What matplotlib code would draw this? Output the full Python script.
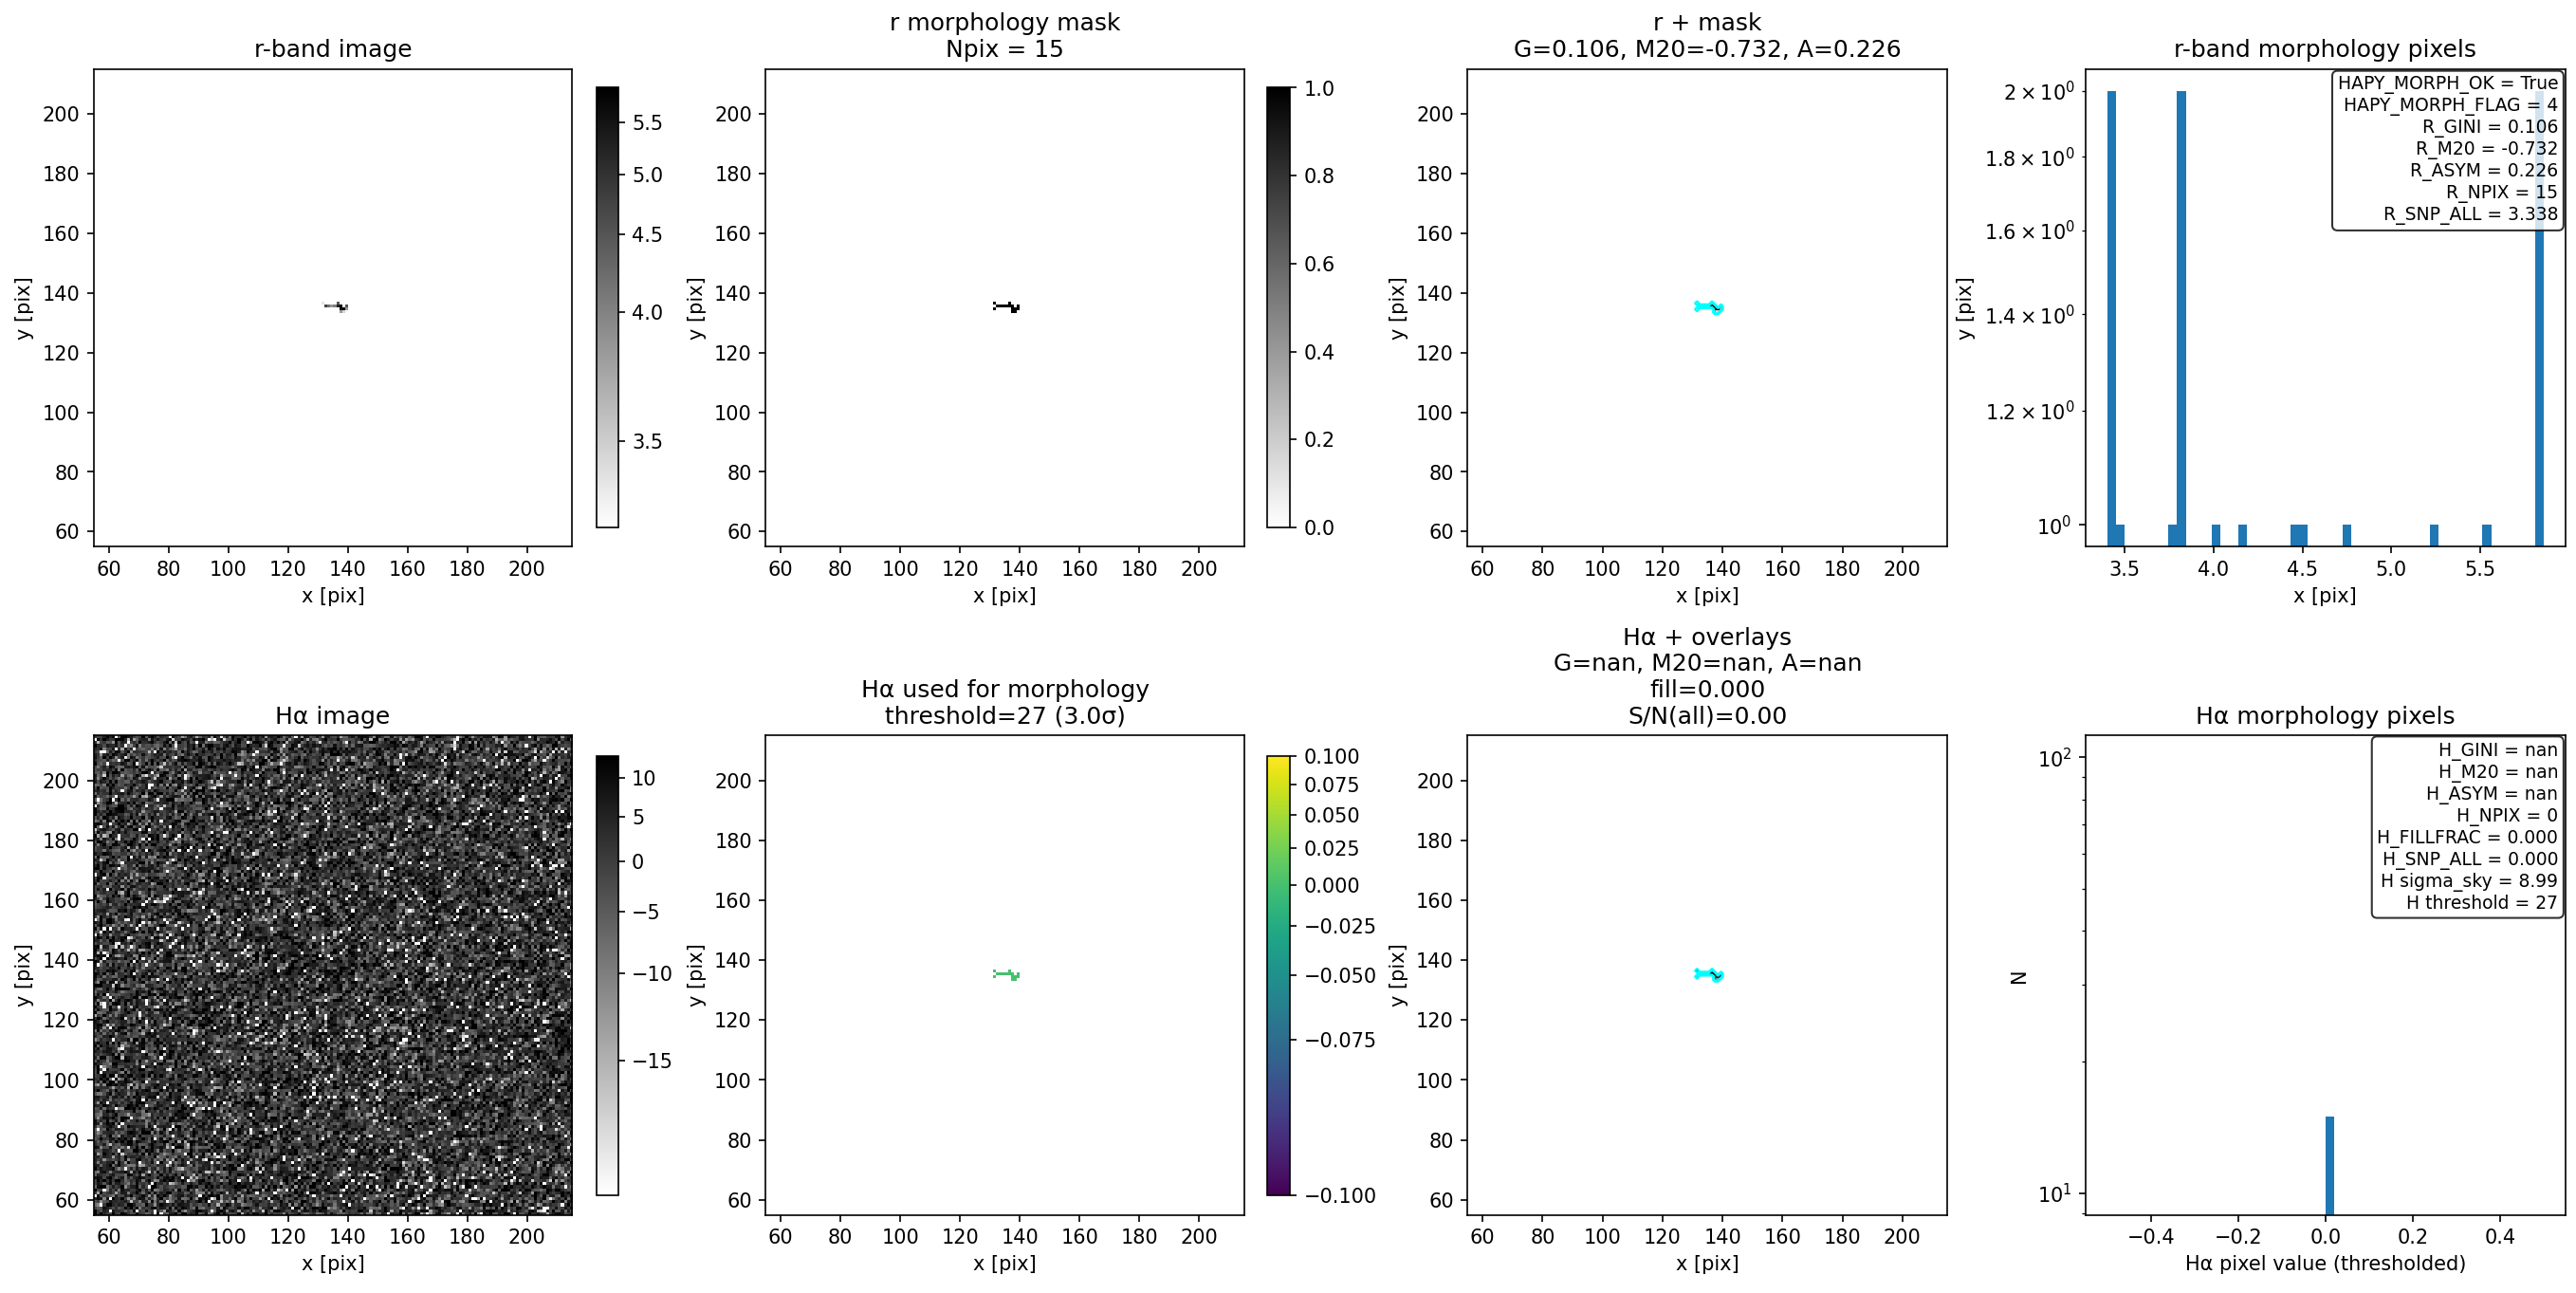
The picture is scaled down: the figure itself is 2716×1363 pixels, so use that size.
import numpy as np
import matplotlib
matplotlib.use("Agg")
import matplotlib.pyplot as plt
from matplotlib.colors import PowerNorm

# %% Data
# cutout window (pixel coordinates)
x_lo, x_hi = 55, 215
y_lo, y_hi = 55, 215

# r-band morphology pixels: position and value
r_pix_x = [131, 136, 132, 133, 134, 135, 136, 137, 139, 131, 137, 138, 139, 137, 138]
r_pix_y = [136, 136, 135, 135, 135, 135, 135, 135, 135, 134, 134, 134, 134, 133, 133]
r_pix_val = [3.43, 4.46, 4.75, 4.16, 3.81, 4.02, 5.24, 5.854, 4.51,
             3.405, 5.53, 5.83, 3.83, 3.78, 3.47]

# H-alpha values of the same pixels after thresholding (none above threshold)
ha_thresh_val = [0.0] * 15

r_stats = ["HAPY_MORPH_OK = True", "HAPY_MORPH_FLAG = 4", "R_GINI = 0.106",
           "R_M20 = -0.732", "R_ASYM = 0.226", "R_NPIX = 15", "R_SNP_ALL = 3.338"]
h_stats = ["H_GINI = nan", "H_M20 = nan", "H_ASYM = nan", "H_NPIX = 0",
           "H_FILLFRAC = 0.000", "H_SNP_ALL = 0.000", "H sigma_sky = 8.99",
           "H threshold = 27"]

# %% Build images
nx, ny = x_hi - x_lo, y_hi - y_lo
ext = (x_lo, x_hi, y_lo, y_hi)
ix = np.array(r_pix_x) - x_lo
iy = np.array(r_pix_y) - y_lo

r_img = np.full((ny, nx), np.nan)
r_img[iy, ix] = r_pix_val

mask = np.zeros((ny, nx))
mask[iy, ix] = 1

# sky background stand-in for the H-alpha cutout (noise only, no source),
# lightly correlated along the diagonal like a resampled image
rng = np.random.default_rng(3)
sky = rng.standard_t(3, size=(ny + 1, nx + 1))
sky = (sky[1:, 1:] + 0.2 * sky[:-1, :-1]) / np.sqrt(1.04)
ha_img = 1.5 + 6.5 * sky

ha_used = np.full((ny, nx), np.nan)
ha_used[iy, ix] = ha_thresh_val

ha_over = np.full((ny, nx), np.nan)
ha_over[iy, ix] = ha_img[iy, ix]

xc = np.arange(x_lo, x_hi) + 0.5
yc = np.arange(y_lo, y_hi) + 0.5

r_norm = PowerNorm(0.5, vmin=min(r_pix_val), vmax=5.875)
h_norm = PowerNorm(0.5, vmin=-17.9, vmax=13.0)
used_norm = PowerNorm(0.5, vmin=-0.1, vmax=0.1)

# %% Layout (boxes measured on a 1568-px-wide view -> figure fractions)
W, H = 1568.0, 786.6


def rect(x, y, w, h):
    return [x / W, 1 - (y + h) / H, w / W, h / H]


col_x = [(57, 291), (466, 291), (893, 292), (1269, 292)]
row_y = [(42, 290.5), (447.5, 291.5)]
cbar_x = [(363, 13), (771, 14)]
cbar_y = [(53.4, 267.5), (460, 267)]

fig = plt.figure(figsize=(18.113, 9.087))
axes = np.array([[fig.add_axes(rect(cx, ry, cw, rh)) for cx, cw in col_x]
                 for ry, rh in row_y])
caxes = np.array([[fig.add_axes(rect(cx, ry, cw, rh)) for cx, cw in cbar_x]
                  for ry, rh in cbar_y])

im_kw = dict(origin="lower", extent=ext, aspect="auto", interpolation="nearest")
box_kw = dict(boxstyle="round", facecolor="white", alpha=0.8)

# %% Plot
ax = axes[0, 0]
im = ax.imshow(r_img, cmap="gray_r", norm=r_norm, **im_kw)
fig.colorbar(im, cax=caxes[0, 0])
ax.set_title("r-band image")

ax = axes[0, 1]
im = ax.imshow(mask, cmap="gray_r", vmin=0, vmax=1, **im_kw)
fig.colorbar(im, cax=caxes[0, 1])
ax.set_title("r morphology mask\nNpix = 15")

ax = axes[0, 2]
ax.imshow(r_img, cmap="gray_r", norm=r_norm, **im_kw)
ax.contour(xc, yc, mask, levels=[0.5], colors="cyan", linewidths=1.5)
ax.set_title("r + mask\nG=0.106, M20=-0.732, A=0.226")

ax = axes[0, 3]
ax.hist(r_pix_val, bins=50, log=True)
ax.set_title("r-band morphology pixels")
ax.set_xlabel("x [pix]")
ax.set_ylabel("y [pix]")
ax.text(0.985, 0.985, "\n".join(r_stats), transform=ax.transAxes, ha="right",
        va="top", fontsize=9, bbox=box_kw)

ax = axes[1, 0]
im = ax.imshow(ha_img, cmap="gray_r", norm=h_norm, **im_kw)
fig.colorbar(im, cax=caxes[1, 0])
ax.set_title("Hα image")

ax = axes[1, 1]
im = ax.imshow(ha_used, cmap="viridis", norm=used_norm, **im_kw)
fig.colorbar(im, cax=caxes[1, 1])
ax.set_title("Hα used for morphology\nthreshold=27 (3.0σ)")

ax = axes[1, 2]
ax.imshow(ha_over, cmap="gray_r", norm=h_norm, **im_kw)
ax.contour(xc, yc, mask, levels=[0.5], colors="cyan", linewidths=1.5)
ax.set_title("Hα + overlays\nG=nan, M20=nan, A=nan\nfill=0.000\nS/N(all)=0.00")

ax = axes[1, 3]
ax.hist(ha_thresh_val, bins=50, log=True)
ax.set_title("Hα morphology pixels")
ax.set_xlabel("Hα pixel value (thresholded)")
ax.set_ylabel("N")
ax.text(0.985, 0.985, "\n".join(h_stats), transform=ax.transAxes, ha="right",
        va="top", fontsize=9, bbox=box_kw)

for ax in axes[:, :3].ravel():
    ax.set_xlabel("x [pix]")
    ax.set_ylabel("y [pix]")
    ax.set_xticks(np.arange(60, 201, 20))

fig.savefig("out.png", dpi=150)
